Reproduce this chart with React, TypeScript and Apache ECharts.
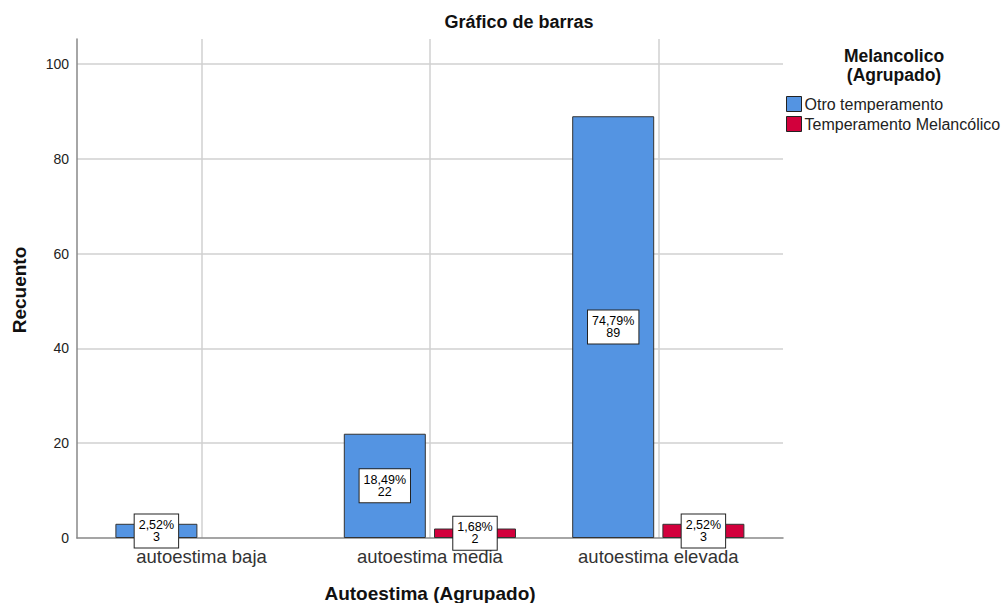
import React, { useEffect, useRef } from 'react';
import * as echarts from 'echarts';

const categories = ['autoestima baja', 'autoestima media', 'autoestima elevada'];
const seriesNames = ['Otro temperamento', 'Temperamento Melancólico'];
const otroValues = [3, 22, 89];
const melancolicoValues = [0, 2, 3];
const yMax = 105.3;
const yInterval = 20;

const FONT = '"Liberation Sans", Arial, Helvetica, sans-serif';
const BLUE = '#5494E2';
const RED = '#D2003C';

const total = [...otroValues, ...melancolicoValues].reduce((a, b) => a + b, 0);

const labelFormatter = (p: any) =>
  `${((p.value / total) * 100).toFixed(2).replace('.', ',')}%\n${p.value}`;

const barLabel = {
  show: true,
  position: 'inside',
  formatter: labelFormatter,
  color: '#000',
  fontFamily: FONT,
  fontSize: 12.5,
  lineHeight: 12,
  backgroundColor: '#fff',
  borderColor: '#222',
  borderWidth: 1,
  padding: [5, 4, 4, 4],
};

const toData = (vals: number[]) =>
  vals.map((v) =>
    v === 0
      ? { value: v, label: { show: false }, itemStyle: { opacity: 0, borderWidth: 0 } }
      : { value: v }
  );

export default function App() {
  const ref = useRef<HTMLDivElement>(null);
  useEffect(() => {
    if (!ref.current) return;
    const chart = echarts.init(ref.current, undefined, { renderer: 'svg' });
    chart.setOption({
      animation: false,
      backgroundColor: '#fff',
      textStyle: { fontFamily: FONT },
      grid: [
        { left: 77, top: 39, width: 706, height: 499, containLabel: false },
        { left: 87.3, top: 39, width: 685.2, height: 499, containLabel: false },
      ],
      xAxis: [
        {
          type: 'value',
          gridIndex: 0,
          min: 0,
          max: 1,
          axisLine: { show: true, onZero: false, lineStyle: { color: '#888', width: 1.5 } },
          axisTick: { show: false },
          axisLabel: { show: false },
          splitLine: { show: false },
        },
        {
          type: 'category',
          gridIndex: 1,
          data: categories,
          axisLine: { show: false },
          axisTick: { show: false },
          splitLine: { show: false },
          axisLabel: { fontSize: 18.5, color: '#333', margin: 9, fontFamily: FONT },
        },
      ],
      yAxis: [
        {
          type: 'value',
          gridIndex: 0,
          min: 0,
          max: yMax,
          interval: yInterval,
          axisLine: { show: true, lineStyle: { color: '#888', width: 1.5 } },
          axisTick: { show: false },
          axisLabel: { fontSize: 14, color: '#222', margin: 8, showMaxLabel: false, fontFamily: FONT },
          splitLine: {
            show: true,
            showMinLine: false,
            showMaxLine: false,
            lineStyle: { color: '#d0d0d0', width: 1.5 },
          },
        },
        {
          type: 'value',
          gridIndex: 1,
          min: 0,
          max: yMax,
          interval: yInterval,
          show: false,
          splitLine: { show: false },
        },
      ],
      legend: {
        orient: 'vertical',
        left: 786,
        top: 96,
        padding: 0,
        itemWidth: 15,
        itemHeight: 15,
        itemGap: 4,
        icon: 'rect',
        data: seriesNames,
        textStyle: { fontSize: 16, color: '#222', fontFamily: FONT, padding: [0, 0, 0, -2] },
        itemStyle: { borderColor: '#222', borderWidth: 1 },
      },
      series: [
        {
          name: seriesNames[0],
          type: 'bar',
          xAxisIndex: 1,
          yAxisIndex: 1,
          barWidth: 82,
          barGap: '10%',
          data: toData(otroValues),
          itemStyle: { color: BLUE, borderColor: '#333', borderWidth: 1 },
          label: barLabel,
        },
        {
          name: seriesNames[1],
          type: 'bar',
          xAxisIndex: 1,
          yAxisIndex: 1,
          barWidth: 82,
          barGap: '10%',
          data: toData(melancolicoValues),
          itemStyle: { color: RED, borderColor: '#333', borderWidth: 1 },
          label: barLabel,
        },
        {
          name: 'gridlines',
          type: 'line',
          xAxisIndex: 1,
          yAxisIndex: 1,
          data: [],
          silent: true,
          z: 0,
          markLine: {
            silent: true,
            symbol: ['none', 'none'],
            label: { show: false },
            lineStyle: { color: '#d0d0d0', width: 1.5, type: 'solid' },
            z: 0,
            data: categories.map((c) => ({ xAxis: c })),
          },
        },
      ],
      graphic: [
        {
          type: 'text',
          x: 519,
          y: 22,
          style: {
            text: 'Gráfico de barras',
            font: `bold 18px ${FONT}`,
            fill: '#111',
            textAlign: 'center',
            textVerticalAlign: 'middle',
          },
        },
        {
          type: 'text',
          x: 19,
          y: 290,
          rotation: Math.PI / 2,
          style: {
            text: 'Recuento',
            font: `bold 19px ${FONT}`,
            fill: '#111',
            textAlign: 'center',
            textVerticalAlign: 'middle',
          },
        },
        {
          type: 'text',
          x: 430,
          y: 593,
          style: {
            text: 'Autoestima (Agrupado)',
            font: `bold 19px ${FONT}`,
            fill: '#111',
            textAlign: 'center',
            textVerticalAlign: 'middle',
          },
        },
        {
          type: 'text',
          x: 894,
          y: 56,
          style: {
            text: 'Melancolico',
            font: `bold 17.5px ${FONT}`,
            fill: '#111',
            textAlign: 'center',
            textVerticalAlign: 'middle',
          },
        },
        {
          type: 'text',
          x: 894,
          y: 75,
          style: {
            text: '(Agrupado)',
            font: `bold 17.5px ${FONT}`,
            fill: '#111',
            textAlign: 'center',
            textVerticalAlign: 'middle',
          },
        },
      ],
    });
    return () => chart.dispose();
  }, []);
  return (
    <div
      ref={ref}
      style={{ position: 'fixed', left: 0, top: 0, width: 1005, height: 603, background: '#fff' }}
    />
  );
}
